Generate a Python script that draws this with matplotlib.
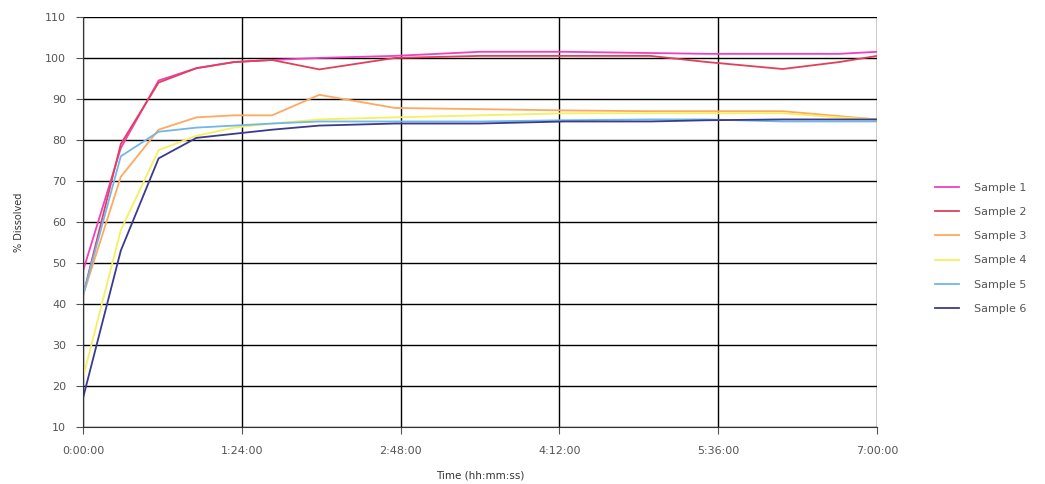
import matplotlib
matplotlib.use("Agg")
import matplotlib.pyplot as plt

# sampling times in minutes
times = [0, 20, 40, 60, 80, 100, 125, 165, 210, 255, 300, 330, 370, 400, 420]

sample1 = [48, 78, 94.5, 97.5, 99, 99.5, 100, 100.5, 101.5, 101.5, 101.2, 101, 101, 101, 101.5]
sample2 = [42, 79, 94, 97.5, 99, 99.5, 97.2, 100, 100.5, 100.5, 100.5, 99, 97.3, 99, 100.5]
sample3 = [42, 71, 82.5, 85.5, 86, 86, 91, 87.8, 87.5, 87.2, 87, 87, 87, 85.8, 85]
sample4 = [22, 58, 77.5, 81, 83, 84, 85, 85.5, 86, 86.5, 86.5, 86.5, 86.5, 85.5, 85]
sample5 = [42, 76, 82, 83, 83.5, 84, 84.5, 84.5, 84.5, 84.8, 85, 85, 84.5, 84.5, 84.5]
sample6 = [17, 53, 75.5, 80.5, 81.5, 82.5, 83.5, 84, 84, 84.5, 84.5, 84.8, 85, 85, 85]

labels = ["Sample 1", "Sample 2", "Sample 3", "Sample 4", "Sample 5", "Sample 6"]
colors = ["#F040C0", "#E0405A", "#FFA860", "#F4F060", "#70B8E8", "#3A3A90"]

xtick_pos = [0, 84, 168, 252, 336, 420]
xtick_lab = ["0:00:00", "1:24:00", "2:48:00", "4:12:00", "5:36:00", "7:00:00"]

fig = plt.figure(figsize=(10.45, 4.84), dpi=100)
ax = fig.add_axes([0.0794, 0.118, 0.760, 0.847])

series = [sample1, sample2, sample3, sample4, sample5, sample6]
for vals, lab, col in zip(series, labels, colors):
    ax.plot(times, vals, color=col, lw=1.3, label=lab)

ax.set_xlim(0, 420)
ax.set_ylim(10, 110)
ax.set_yticks(range(10, 111, 10))
ax.set_xticks(xtick_pos)
ax.set_xticklabels(xtick_lab)
ax.grid(True, color="black", lw=1.0)
ax.set_axisbelow(True)
for side in ["top", "right"]:
    ax.spines[side].set_visible(False)
for side in ["left", "bottom"]:
    ax.spines[side].set_color("#333333")
ax.tick_params(labelsize=8, colors="#555555", length=5, direction="out")
ax.tick_params(axis="y", pad=7)
ax.tick_params(axis="x", pad=9)
ax.set_xlabel("Time (hh:mm:ss)", fontsize=7.5, color="#333333", labelpad=10)
ax.set_ylabel("% Dissolved", fontsize=7, color="#333333", labelpad=15)

fig.legend(loc="center left", bbox_to_anchor=(0.885, 0.487), frameon=False,
           fontsize=8, handlelength=2.2, labelspacing=1.28, handletextpad=1.3,
           labelcolor="#555555")

fig.savefig("out.png", dpi=100)
